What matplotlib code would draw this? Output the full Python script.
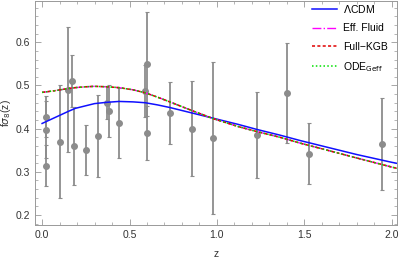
import matplotlib
matplotlib.use("Agg")
from matplotlib import pyplot as plt
from matplotlib.ticker import MultipleLocator

plt.rcParams['font.family'] = ['Liberation Sans', 'DejaVu Sans']
plt.rcParams['mathtext.fontset'] = 'dejavusans'

# fsigma8 data points (z, value, error)
z_data = [0.02, 0.02, 0.02, 0.10, 0.15, 0.17, 0.18, 0.25, 0.32, 0.37, 0.38, 0.44,
          0.59, 0.60, 0.60, 0.73, 0.86, 0.978, 1.23, 1.40, 1.526, 1.944]
fs8_data = [0.314, 0.398, 0.428, 0.37, 0.49, 0.51, 0.36, 0.351, 0.384, 0.460, 0.44, 0.413,
            0.488, 0.55, 0.39, 0.437, 0.40, 0.379, 0.385, 0.482, 0.342, 0.364]
fs8_err = [0.048, 0.065, 0.0465, 0.13, 0.145, 0.06, 0.09, 0.058, 0.095, 0.038, 0.06, 0.08,
           0.06, 0.12, 0.063, 0.072, 0.11, 0.176, 0.099, 0.116, 0.07, 0.106]

# model curves
z_curve = [0.0, 0.075, 0.15, 0.19, 0.25, 0.30, 0.37, 0.44, 0.52, 0.59, 0.66, 0.73,
           0.85, 0.98, 1.12, 1.23, 1.36, 1.48, 1.65, 1.80, 2.0, 2.05]
lcdm = [0.412, 0.426, 0.440, 0.447, 0.453, 0.458, 0.461, 0.463, 0.462, 0.460, 0.455, 0.449,
        0.437, 0.424, 0.410, 0.398, 0.385, 0.372, 0.355, 0.340, 0.322, 0.318]
eff_fluid = [0.484, 0.488, 0.493, 0.495, 0.497, 0.498, 0.497, 0.495, 0.490, 0.483, 0.473, 0.462,
             0.443, 0.423, 0.405, 0.393, 0.380, 0.366, 0.348, 0.332, 0.311, 0.306]
full_kgb = eff_fluid
ode_geff = eff_fluid

fig = plt.figure(figsize=(3.99, 2.60), dpi=100)
ax = fig.add_axes([0.088, 0.135, 0.907, 0.86])

ax.errorbar(z_data, fs8_data, yerr=fs8_err, fmt='o', color='#8c8c8c', ms=4,
            elinewidth=1.3, capsize=1.6, capthick=0.8, zorder=2)

ax.plot(z_curve, lcdm, color='#1010ff', lw=1.1, label=r'$\Lambda$CDM', zorder=3)
ax.plot(z_curve, eff_fluid, color='#ff00ff', lw=1.0, ls='-.', label='Eff. Fluid', zorder=3)
ax.plot(z_curve, full_kgb, color='#e00000', lw=1.1, ls=(0, (2, 1.5)), label='Full\u2212KGB', zorder=4)
ax.plot(z_curve, ode_geff, color='#00e000', lw=1.1, ls=(0, (1, 1.5)), label=r'ODE$_{\rm Geff}$', zorder=5)

ax.set_xlim(-0.04, 2.03)
ax.set_ylim(0.177, 0.695)
ax.xaxis.set_major_locator(MultipleLocator(0.5))
ax.xaxis.set_minor_locator(MultipleLocator(0.1))
ax.yaxis.set_major_locator(MultipleLocator(0.1))
ax.yaxis.set_minor_locator(MultipleLocator(0.02))
ax.tick_params(which='both', direction='in', top=True, right=True, color='#999999',
               labelsize=7.5, labelcolor='#333333')
ax.tick_params(which='major', length=4, width=0.6)
ax.tick_params(which='minor', length=2, width=0.5)
for s in ax.spines.values():
    s.set_color('#999999')
    s.set_linewidth(0.7)

ax.set_xlabel('z', fontsize=7.5, color='#333333', labelpad=7)
ax.set_ylabel(r'f$\sigma_8$(z)', fontsize=7.5, color='#333333', labelpad=2)

ax.legend(loc='upper right', bbox_to_anchor=(1.0, 1.035), frameon=False, fontsize=7.5,
          handlelength=2.4, labelspacing=0.8, handletextpad=0.6)

fig.savefig('out.png', dpi=100)
